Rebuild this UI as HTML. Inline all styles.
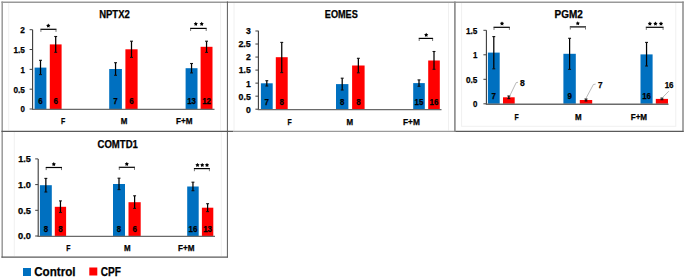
<!DOCTYPE html>
<html><head><meta charset="utf-8"><style>
html,body{margin:0;padding:0;background:#fff;}
body{width:685px;height:279px;overflow:hidden;}
svg{display:block;}
text{font-family:"Liberation Sans", sans-serif;stroke:#000;stroke-width:0.25px;}
</style></head><body>
<svg width="685" height="279" viewBox="0 0 685 279">
<rect width="685" height="279" fill="#fff"/>
<line x1="8.7" y1="3" x2="8.7" y2="130.5" stroke="#f0f0f0" stroke-width="1"/>
<line x1="220.6" y1="3" x2="220.6" y2="130.5" stroke="#f0f0f0" stroke-width="1"/>
<line x1="234.0" y1="3" x2="234.0" y2="130.5" stroke="#f0f0f0" stroke-width="1"/>
<line x1="448.5" y1="3" x2="448.5" y2="130.5" stroke="#f0f0f0" stroke-width="1"/>
<rect x="461.6" y="2.5" width="214.2" height="123.8" fill="none" stroke="#f0f0f0" stroke-width="1"/>
<line x1="14.3" y1="132" x2="14.3" y2="256" stroke="#f0f0f0" stroke-width="1"/>
<line x1="221.3" y1="132" x2="221.3" y2="256" stroke="#f0f0f0" stroke-width="1"/>
<line x1="1.4" y1="2.2" x2="683.7" y2="2.2" stroke="#999999" stroke-width="1.6"/>
<line x1="2.2" y1="1.4" x2="2.2" y2="257.5" stroke="#999999" stroke-width="1.5"/>
<line x1="683.0" y1="1.4" x2="683.0" y2="132.0" stroke="#8a8a8a" stroke-width="1.5"/>
<line x1="1.4" y1="131.4" x2="233.5" y2="131.4" stroke="#5a5a5a" stroke-width="1.15"/>
<line x1="233.5" y1="131.4" x2="455.0" y2="131.4" stroke="#9a9a9a" stroke-width="1.15"/>
<line x1="455.0" y1="131.4" x2="683.6" y2="131.4" stroke="#5a5a5a" stroke-width="1.15"/>
<line x1="227.4" y1="1.4" x2="227.4" y2="257.5" stroke="#5a5a5a" stroke-width="1.0"/>
<line x1="454.9" y1="1.4" x2="454.9" y2="132.0" stroke="#888888" stroke-width="1.6"/>
<line x1="1.4" y1="257.1" x2="227.9" y2="257.1" stroke="#5a5a5a" stroke-width="1.1"/>
<rect x="34.60" y="67.60" width="11.80" height="41.40" fill="#0070C0"/>
<rect x="49.80" y="44.40" width="11.80" height="64.60" fill="#FF0000"/>
<rect x="109.20" y="69.00" width="12.70" height="40.00" fill="#0070C0"/>
<rect x="125.40" y="49.30" width="12.20" height="59.70" fill="#FF0000"/>
<rect x="185.60" y="68.20" width="11.90" height="40.80" fill="#0070C0"/>
<rect x="200.60" y="46.80" width="11.90" height="62.20" fill="#FF0000"/>
<line x1="32.6" y1="29.7" x2="32.6" y2="109.3" stroke="#3a3a3a" stroke-width="1.1" />
<line x1="32.0" y1="109.45" x2="214.5" y2="109.45" stroke="#6a6a6a" stroke-width="1.3" />
<line x1="29.6" y1="109.0" x2="32.6" y2="109.0" stroke="#404040" stroke-width="1.0" />
<text x="24.8" y="112.4" font-size="8.8" text-anchor="end" font-weight="bold" fill="#000" textLength="4.4" lengthAdjust="spacingAndGlyphs">0</text>
<line x1="29.6" y1="89.175" x2="32.6" y2="89.175" stroke="#404040" stroke-width="1.0" />
<text x="24.8" y="92.575" font-size="8.8" text-anchor="end" font-weight="bold" fill="#000" textLength="11.4" lengthAdjust="spacingAndGlyphs">0.5</text>
<line x1="29.6" y1="69.35" x2="32.6" y2="69.35" stroke="#404040" stroke-width="1.0" />
<text x="24.8" y="72.75" font-size="8.8" text-anchor="end" font-weight="bold" fill="#000" textLength="4.4" lengthAdjust="spacingAndGlyphs">1</text>
<line x1="29.6" y1="49.525000000000006" x2="32.6" y2="49.525000000000006" stroke="#404040" stroke-width="1.0" />
<text x="24.8" y="52.925000000000004" font-size="8.8" text-anchor="end" font-weight="bold" fill="#000" textLength="11.4" lengthAdjust="spacingAndGlyphs">1.5</text>
<line x1="29.6" y1="29.700000000000003" x2="32.6" y2="29.700000000000003" stroke="#404040" stroke-width="1.0" />
<text x="24.8" y="33.1" font-size="8.8" text-anchor="end" font-weight="bold" fill="#000" textLength="4.6" lengthAdjust="spacingAndGlyphs">2</text>
<line x1="40.5" y1="60.3" x2="40.5" y2="74.6" stroke="#000" stroke-width="1.25" />
<line x1="39.05" y1="60.3" x2="41.95" y2="60.3" stroke="#111" stroke-width="1.1" />
<line x1="39.05" y1="74.6" x2="41.95" y2="74.6" stroke="#111" stroke-width="1.1" />
<text x="40.5" y="103.9" font-size="8.2" text-anchor="middle" font-weight="bold" fill="#000" textLength="4.4" lengthAdjust="spacingAndGlyphs">6</text>
<line x1="55.7" y1="36.5" x2="55.7" y2="52.3" stroke="#000" stroke-width="1.25" />
<line x1="54.25" y1="36.5" x2="57.150000000000006" y2="36.5" stroke="#111" stroke-width="1.1" />
<line x1="54.25" y1="52.3" x2="57.150000000000006" y2="52.3" stroke="#111" stroke-width="1.1" />
<text x="55.7" y="103.9" font-size="8.2" text-anchor="middle" font-weight="bold" fill="#000" textLength="4.4" lengthAdjust="spacingAndGlyphs">6</text>
<line x1="115.55000000000001" y1="62.7" x2="115.55000000000001" y2="75.3" stroke="#000" stroke-width="1.25" />
<line x1="114.10000000000001" y1="62.7" x2="117.00000000000001" y2="62.7" stroke="#111" stroke-width="1.1" />
<line x1="114.10000000000001" y1="75.3" x2="117.00000000000001" y2="75.3" stroke="#111" stroke-width="1.1" />
<text x="115.55000000000001" y="103.9" font-size="8.2" text-anchor="middle" font-weight="bold" fill="#000" textLength="4.4" lengthAdjust="spacingAndGlyphs">7</text>
<line x1="131.5" y1="41.2" x2="131.5" y2="57.4" stroke="#000" stroke-width="1.25" />
<line x1="130.05" y1="41.2" x2="132.95" y2="41.2" stroke="#111" stroke-width="1.1" />
<line x1="130.05" y1="57.4" x2="132.95" y2="57.4" stroke="#111" stroke-width="1.1" />
<text x="131.5" y="103.9" font-size="8.2" text-anchor="middle" font-weight="bold" fill="#000" textLength="4.4" lengthAdjust="spacingAndGlyphs">6</text>
<line x1="191.55" y1="63.5" x2="191.55" y2="72.9" stroke="#000" stroke-width="1.25" />
<line x1="190.10000000000002" y1="63.5" x2="193.0" y2="63.5" stroke="#111" stroke-width="1.1" />
<line x1="190.10000000000002" y1="72.9" x2="193.0" y2="72.9" stroke="#111" stroke-width="1.1" />
<text x="191.55" y="103.9" font-size="8.2" text-anchor="middle" font-weight="bold" fill="#000" textLength="8.8" lengthAdjust="spacingAndGlyphs">13</text>
<line x1="206.55" y1="41.2" x2="206.55" y2="52.4" stroke="#000" stroke-width="1.25" />
<line x1="205.10000000000002" y1="41.2" x2="208.0" y2="41.2" stroke="#111" stroke-width="1.1" />
<line x1="205.10000000000002" y1="52.4" x2="208.0" y2="52.4" stroke="#111" stroke-width="1.1" />
<text x="206.55" y="103.9" font-size="8.2" text-anchor="middle" font-weight="bold" fill="#000" textLength="8.8" lengthAdjust="spacingAndGlyphs">12</text>
<text x="63.2" y="124.0" font-size="8.4" text-anchor="middle" font-weight="bold" fill="#000" textLength="4.2" lengthAdjust="spacingAndGlyphs">F</text>
<text x="124.0" y="124.0" font-size="8.4" text-anchor="middle" font-weight="bold" fill="#000" textLength="6.6" lengthAdjust="spacingAndGlyphs">M</text>
<text x="184.2" y="124.0" font-size="8.4" text-anchor="middle" font-weight="bold" fill="#000" textLength="16.4" lengthAdjust="spacingAndGlyphs">F+M</text>
<line x1="40.4" y1="29.3" x2="56.5" y2="29.3" stroke="#000" stroke-width="1.2" />
<line x1="40.9" y1="29.7" x2="40.9" y2="31.900000000000002" stroke="#666" stroke-width="0.9" />
<line x1="56.0" y1="29.7" x2="56.0" y2="31.900000000000002" stroke="#666" stroke-width="0.9" />
<polygon points="48.30,23.60 49.01,24.82 50.39,25.12 49.45,26.17 49.59,27.58 48.30,27.01 47.01,27.58 47.15,26.17 46.21,25.12 47.59,24.82" fill="#000"/>
<line x1="190.1" y1="28.4" x2="206.7" y2="28.4" stroke="#000" stroke-width="1.2" />
<line x1="190.6" y1="28.799999999999997" x2="190.6" y2="31.0" stroke="#666" stroke-width="0.9" />
<line x1="206.2" y1="28.799999999999997" x2="206.2" y2="31.0" stroke="#666" stroke-width="0.9" />
<polygon points="195.80,21.80 196.51,23.02 197.89,23.32 196.95,24.37 197.09,25.78 195.80,25.21 194.51,25.78 194.65,24.37 193.71,23.32 195.09,23.02" fill="#000"/>
<polygon points="201.70,21.80 202.41,23.02 203.79,23.32 202.85,24.37 202.99,25.78 201.70,25.21 200.41,25.78 200.55,24.37 199.61,23.32 200.99,23.02" fill="#000"/>
<text x="114.5" y="17.5" font-size="10.2" text-anchor="middle" font-weight="bold" fill="#000" textLength="30.6" lengthAdjust="spacingAndGlyphs">NPTX2</text>
<rect x="260.90" y="83.30" width="11.80" height="25.90" fill="#0070C0"/>
<rect x="275.80" y="57.20" width="11.90" height="52.00" fill="#FF0000"/>
<rect x="336.00" y="84.10" width="12.40" height="25.10" fill="#0070C0"/>
<rect x="352.10" y="65.50" width="12.50" height="43.70" fill="#FF0000"/>
<rect x="413.20" y="83.10" width="11.60" height="26.10" fill="#0070C0"/>
<rect x="428.20" y="60.50" width="11.60" height="48.70" fill="#FF0000"/>
<line x1="258.4" y1="30.7" x2="258.4" y2="109.5" stroke="#3a3a3a" stroke-width="1.1" />
<line x1="257.79999999999995" y1="109.65" x2="441.5" y2="109.65" stroke="#6a6a6a" stroke-width="1.3" />
<line x1="255.39999999999998" y1="109.2" x2="258.4" y2="109.2" stroke="#404040" stroke-width="1.0" />
<text x="250.8" y="112.60000000000001" font-size="8.8" text-anchor="end" font-weight="bold" fill="#000" textLength="4.8" lengthAdjust="spacingAndGlyphs">0</text>
<line x1="255.39999999999998" y1="96.165" x2="258.4" y2="96.165" stroke="#404040" stroke-width="1.0" />
<text x="250.8" y="99.56500000000001" font-size="8.8" text-anchor="end" font-weight="bold" fill="#000" textLength="12.2" lengthAdjust="spacingAndGlyphs">0.5</text>
<line x1="255.39999999999998" y1="83.13" x2="258.4" y2="83.13" stroke="#404040" stroke-width="1.0" />
<text x="250.8" y="86.53" font-size="8.8" text-anchor="end" font-weight="bold" fill="#000" textLength="4.8" lengthAdjust="spacingAndGlyphs">1</text>
<line x1="255.39999999999998" y1="70.095" x2="258.4" y2="70.095" stroke="#404040" stroke-width="1.0" />
<text x="250.8" y="73.495" font-size="8.8" text-anchor="end" font-weight="bold" fill="#000" textLength="12.0" lengthAdjust="spacingAndGlyphs">1.5</text>
<line x1="255.39999999999998" y1="57.06" x2="258.4" y2="57.06" stroke="#404040" stroke-width="1.0" />
<text x="250.8" y="60.46" font-size="8.8" text-anchor="end" font-weight="bold" fill="#000" textLength="4.8" lengthAdjust="spacingAndGlyphs">2</text>
<line x1="255.39999999999998" y1="44.025000000000006" x2="258.4" y2="44.025000000000006" stroke="#404040" stroke-width="1.0" />
<text x="250.8" y="47.425000000000004" font-size="8.8" text-anchor="end" font-weight="bold" fill="#000" textLength="12.4" lengthAdjust="spacingAndGlyphs">2.5</text>
<line x1="255.39999999999998" y1="30.989999999999995" x2="258.4" y2="30.989999999999995" stroke="#404040" stroke-width="1.0" />
<text x="250.8" y="34.38999999999999" font-size="8.8" text-anchor="end" font-weight="bold" fill="#000" textLength="4.8" lengthAdjust="spacingAndGlyphs">3</text>
<line x1="266.79999999999995" y1="80.7" x2="266.79999999999995" y2="86.0" stroke="#000" stroke-width="1.25" />
<line x1="265.34999999999997" y1="80.7" x2="268.24999999999994" y2="80.7" stroke="#111" stroke-width="1.1" />
<line x1="265.34999999999997" y1="86.0" x2="268.24999999999994" y2="86.0" stroke="#111" stroke-width="1.1" />
<text x="266.79999999999995" y="104.5" font-size="8.2" text-anchor="middle" font-weight="bold" fill="#000" textLength="4.4" lengthAdjust="spacingAndGlyphs">7</text>
<line x1="281.75" y1="42.4" x2="281.75" y2="72.6" stroke="#000" stroke-width="1.25" />
<line x1="280.3" y1="42.4" x2="283.2" y2="42.4" stroke="#111" stroke-width="1.1" />
<line x1="280.3" y1="72.6" x2="283.2" y2="72.6" stroke="#111" stroke-width="1.1" />
<text x="281.75" y="104.5" font-size="8.2" text-anchor="middle" font-weight="bold" fill="#000" textLength="4.4" lengthAdjust="spacingAndGlyphs">8</text>
<line x1="342.2" y1="78.2" x2="342.2" y2="90.0" stroke="#000" stroke-width="1.25" />
<line x1="340.75" y1="78.2" x2="343.65" y2="78.2" stroke="#111" stroke-width="1.1" />
<line x1="340.75" y1="90.0" x2="343.65" y2="90.0" stroke="#111" stroke-width="1.1" />
<text x="342.2" y="104.5" font-size="8.2" text-anchor="middle" font-weight="bold" fill="#000" textLength="4.4" lengthAdjust="spacingAndGlyphs">8</text>
<line x1="358.35" y1="58.3" x2="358.35" y2="72.8" stroke="#000" stroke-width="1.25" />
<line x1="356.90000000000003" y1="58.3" x2="359.8" y2="58.3" stroke="#111" stroke-width="1.1" />
<line x1="356.90000000000003" y1="72.8" x2="359.8" y2="72.8" stroke="#111" stroke-width="1.1" />
<text x="358.35" y="104.5" font-size="8.2" text-anchor="middle" font-weight="bold" fill="#000" textLength="4.4" lengthAdjust="spacingAndGlyphs">8</text>
<line x1="419.0" y1="79.9" x2="419.0" y2="86.3" stroke="#000" stroke-width="1.25" />
<line x1="417.55" y1="79.9" x2="420.45" y2="79.9" stroke="#111" stroke-width="1.1" />
<line x1="417.55" y1="86.3" x2="420.45" y2="86.3" stroke="#111" stroke-width="1.1" />
<text x="419.0" y="104.5" font-size="8.2" text-anchor="middle" font-weight="bold" fill="#000" textLength="8.8" lengthAdjust="spacingAndGlyphs">15</text>
<line x1="434.0" y1="51.5" x2="434.0" y2="69.3" stroke="#000" stroke-width="1.25" />
<line x1="432.55" y1="51.5" x2="435.45" y2="51.5" stroke="#111" stroke-width="1.1" />
<line x1="432.55" y1="69.3" x2="435.45" y2="69.3" stroke="#111" stroke-width="1.1" />
<text x="434.0" y="104.5" font-size="8.2" text-anchor="middle" font-weight="bold" fill="#000" textLength="8.8" lengthAdjust="spacingAndGlyphs">16</text>
<text x="289.6" y="125.0" font-size="8.4" text-anchor="middle" font-weight="bold" fill="#000" textLength="4.2" lengthAdjust="spacingAndGlyphs">F</text>
<text x="349.8" y="125.0" font-size="8.4" text-anchor="middle" font-weight="bold" fill="#000" textLength="6.6" lengthAdjust="spacingAndGlyphs">M</text>
<text x="411.4" y="125.0" font-size="8.4" text-anchor="middle" font-weight="bold" fill="#000" textLength="16.8" lengthAdjust="spacingAndGlyphs">F+M</text>
<line x1="418.7" y1="38.4" x2="433.1" y2="38.4" stroke="#000" stroke-width="1.2" />
<line x1="419.2" y1="38.8" x2="419.2" y2="41.0" stroke="#666" stroke-width="0.9" />
<line x1="432.6" y1="38.8" x2="432.6" y2="41.0" stroke="#666" stroke-width="0.9" />
<polygon points="426.20,32.80 426.91,34.02 428.29,34.32 427.35,35.37 427.49,36.78 426.20,36.21 424.91,36.78 425.05,35.37 424.11,34.32 425.49,34.02" fill="#000"/>
<text x="341.3" y="17.5" font-size="10.2" text-anchor="middle" font-weight="bold" fill="#000" textLength="33.0" lengthAdjust="spacingAndGlyphs">EOMES</text>
<rect x="487.90" y="52.60" width="11.80" height="51.20" fill="#0070C0"/>
<rect x="503.00" y="97.30" width="11.70" height="6.50" fill="#FF0000"/>
<rect x="563.40" y="53.80" width="12.40" height="50.00" fill="#0070C0"/>
<rect x="579.80" y="100.00" width="12.40" height="3.80" fill="#FF0000"/>
<rect x="640.50" y="54.40" width="12.10" height="49.40" fill="#0070C0"/>
<rect x="655.80" y="98.90" width="12.20" height="4.90" fill="#FF0000"/>
<line x1="486.4" y1="30.3" x2="486.4" y2="104.1" stroke="#3a3a3a" stroke-width="1.1" />
<line x1="485.79999999999995" y1="104.25" x2="668.5" y2="104.25" stroke="#6a6a6a" stroke-width="1.3" />
<line x1="483.4" y1="103.8" x2="486.4" y2="103.8" stroke="#404040" stroke-width="1.0" />
<text x="477.4" y="107.2" font-size="8.8" text-anchor="end" font-weight="bold" fill="#000" textLength="4.4" lengthAdjust="spacingAndGlyphs">0</text>
<line x1="483.4" y1="79.3" x2="486.4" y2="79.3" stroke="#404040" stroke-width="1.0" />
<text x="477.4" y="82.7" font-size="8.8" text-anchor="end" font-weight="bold" fill="#000" textLength="11.4" lengthAdjust="spacingAndGlyphs">0.5</text>
<line x1="483.4" y1="54.8" x2="486.4" y2="54.8" stroke="#404040" stroke-width="1.0" />
<text x="477.4" y="58.199999999999996" font-size="8.8" text-anchor="end" font-weight="bold" fill="#000" textLength="4.4" lengthAdjust="spacingAndGlyphs">1</text>
<line x1="483.4" y1="30.299999999999997" x2="486.4" y2="30.299999999999997" stroke="#404040" stroke-width="1.0" />
<text x="477.4" y="33.699999999999996" font-size="8.8" text-anchor="end" font-weight="bold" fill="#000" textLength="11.4" lengthAdjust="spacingAndGlyphs">1.5</text>
<line x1="493.79999999999995" y1="36.6" x2="493.79999999999995" y2="68.8" stroke="#000" stroke-width="1.25" />
<line x1="492.34999999999997" y1="36.6" x2="495.24999999999994" y2="36.6" stroke="#111" stroke-width="1.1" />
<line x1="492.34999999999997" y1="68.8" x2="495.24999999999994" y2="68.8" stroke="#111" stroke-width="1.1" />
<text x="493.79999999999995" y="99.0" font-size="8.2" text-anchor="middle" font-weight="bold" fill="#000" textLength="4.4" lengthAdjust="spacingAndGlyphs">7</text>
<line x1="508.85" y1="96.0" x2="508.85" y2="98.6" stroke="#000" stroke-width="1.25" />
<line x1="507.40000000000003" y1="96.0" x2="510.3" y2="96.0" stroke="#111" stroke-width="1.1" />
<line x1="507.40000000000003" y1="98.6" x2="510.3" y2="98.6" stroke="#111" stroke-width="1.1" />
<line x1="569.5999999999999" y1="38.3" x2="569.5999999999999" y2="69.4" stroke="#000" stroke-width="1.25" />
<line x1="568.1499999999999" y1="38.3" x2="571.05" y2="38.3" stroke="#111" stroke-width="1.1" />
<line x1="568.1499999999999" y1="69.4" x2="571.05" y2="69.4" stroke="#111" stroke-width="1.1" />
<text x="569.5999999999999" y="99.0" font-size="8.2" text-anchor="middle" font-weight="bold" fill="#000" textLength="4.4" lengthAdjust="spacingAndGlyphs">9</text>
<line x1="586.0" y1="99.0" x2="586.0" y2="101.0" stroke="#000" stroke-width="1.25" />
<line x1="584.55" y1="99.0" x2="587.45" y2="99.0" stroke="#111" stroke-width="1.1" />
<line x1="584.55" y1="101.0" x2="587.45" y2="101.0" stroke="#111" stroke-width="1.1" />
<line x1="646.55" y1="42.4" x2="646.55" y2="66.0" stroke="#000" stroke-width="1.25" />
<line x1="645.0999999999999" y1="42.4" x2="648.0" y2="42.4" stroke="#111" stroke-width="1.1" />
<line x1="645.0999999999999" y1="66.0" x2="648.0" y2="66.0" stroke="#111" stroke-width="1.1" />
<text x="646.55" y="99.0" font-size="8.2" text-anchor="middle" font-weight="bold" fill="#000" textLength="8.8" lengthAdjust="spacingAndGlyphs">16</text>
<line x1="661.9" y1="98.1" x2="661.9" y2="99.7" stroke="#000" stroke-width="1.25" />
<line x1="660.4499999999999" y1="98.1" x2="663.35" y2="98.1" stroke="#111" stroke-width="1.1" />
<line x1="660.4499999999999" y1="99.7" x2="663.35" y2="99.7" stroke="#111" stroke-width="1.1" />
<text x="516.7" y="119.7" font-size="8.4" text-anchor="middle" font-weight="bold" fill="#000" textLength="4.2" lengthAdjust="spacingAndGlyphs">F</text>
<text x="578.2" y="119.7" font-size="8.4" text-anchor="middle" font-weight="bold" fill="#000" textLength="6.6" lengthAdjust="spacingAndGlyphs">M</text>
<text x="638.9" y="119.7" font-size="8.4" text-anchor="middle" font-weight="bold" fill="#000" textLength="16.4" lengthAdjust="spacingAndGlyphs">F+M</text>
<line x1="493.5" y1="27.3" x2="509.9" y2="27.3" stroke="#000" stroke-width="1.2" />
<line x1="494.0" y1="27.7" x2="494.0" y2="29.900000000000002" stroke="#666" stroke-width="0.9" />
<line x1="509.4" y1="27.7" x2="509.4" y2="29.900000000000002" stroke="#666" stroke-width="0.9" />
<polygon points="502.00,21.40 502.71,22.62 504.09,22.92 503.15,23.97 503.29,25.38 502.00,24.81 500.71,25.38 500.85,23.97 499.91,22.92 501.29,22.62" fill="#000"/>
<line x1="569.8" y1="26.9" x2="586.0" y2="26.9" stroke="#000" stroke-width="1.2" />
<line x1="570.3" y1="27.299999999999997" x2="570.3" y2="29.5" stroke="#666" stroke-width="0.9" />
<line x1="585.5" y1="27.299999999999997" x2="585.5" y2="29.5" stroke="#666" stroke-width="0.9" />
<polygon points="577.80,21.20 578.51,22.42 579.89,22.72 578.95,23.77 579.09,25.18 577.80,24.61 576.51,25.18 576.65,23.77 575.71,22.72 577.09,22.42" fill="#000"/>
<line x1="645.8" y1="27.3" x2="663.6" y2="27.3" stroke="#000" stroke-width="1.2" />
<line x1="646.3" y1="27.7" x2="646.3" y2="29.900000000000002" stroke="#666" stroke-width="0.9" />
<line x1="663.1" y1="27.7" x2="663.1" y2="29.900000000000002" stroke="#666" stroke-width="0.9" />
<polygon points="649.90,21.60 650.61,22.82 651.99,23.12 651.05,24.17 651.19,25.58 649.90,25.01 648.61,25.58 648.75,24.17 647.81,23.12 649.19,22.82" fill="#000"/>
<polygon points="655.45,21.60 656.16,22.82 657.54,23.12 656.60,24.17 656.74,25.58 655.45,25.01 654.16,25.58 654.30,24.17 653.36,23.12 654.74,22.82" fill="#000"/>
<polygon points="661.00,21.60 661.71,22.82 663.09,23.12 662.15,24.17 662.29,25.58 661.00,25.01 659.71,25.58 659.85,24.17 658.91,23.12 660.29,22.82" fill="#000"/>
<text x="568.7" y="17.8" font-size="10.2" text-anchor="middle" font-weight="bold" fill="#000" textLength="28.2" lengthAdjust="spacingAndGlyphs">PGM2</text>
<rect x="39.90" y="185.20" width="11.90" height="50.80" fill="#0070C0"/>
<rect x="54.80" y="206.80" width="11.30" height="29.20" fill="#FF0000"/>
<rect x="113.00" y="184.00" width="12.00" height="52.00" fill="#0070C0"/>
<rect x="128.50" y="202.20" width="12.20" height="33.80" fill="#FF0000"/>
<rect x="187.20" y="186.50" width="11.50" height="49.50" fill="#0070C0"/>
<rect x="201.90" y="207.70" width="11.40" height="28.30" fill="#FF0000"/>
<line x1="38.2" y1="159.0" x2="38.2" y2="236.3" stroke="#3a3a3a" stroke-width="1.1" />
<line x1="37.6" y1="236.45" x2="215.0" y2="236.45" stroke="#6a6a6a" stroke-width="1.3" />
<line x1="35.2" y1="236.0" x2="38.2" y2="236.0" stroke="#404040" stroke-width="1.0" />
<text x="30.9" y="239.4" font-size="8.8" text-anchor="end" font-weight="bold" fill="#000" textLength="12.9" lengthAdjust="spacingAndGlyphs">0.0</text>
<line x1="35.2" y1="210.3" x2="38.2" y2="210.3" stroke="#404040" stroke-width="1.0" />
<text x="30.9" y="213.70000000000002" font-size="8.8" text-anchor="end" font-weight="bold" fill="#000" textLength="12.9" lengthAdjust="spacingAndGlyphs">0.5</text>
<line x1="35.2" y1="184.6" x2="38.2" y2="184.6" stroke="#404040" stroke-width="1.0" />
<text x="30.9" y="188.0" font-size="8.8" text-anchor="end" font-weight="bold" fill="#000" textLength="12.9" lengthAdjust="spacingAndGlyphs">1.0</text>
<line x1="35.2" y1="158.9" x2="38.2" y2="158.9" stroke="#404040" stroke-width="1.0" />
<text x="30.9" y="162.3" font-size="8.8" text-anchor="end" font-weight="bold" fill="#000" textLength="12.6" lengthAdjust="spacingAndGlyphs">1.5</text>
<line x1="45.849999999999994" y1="178.4" x2="45.849999999999994" y2="192.0" stroke="#000" stroke-width="1.25" />
<line x1="44.39999999999999" y1="178.4" x2="47.3" y2="178.4" stroke="#111" stroke-width="1.1" />
<line x1="44.39999999999999" y1="192.0" x2="47.3" y2="192.0" stroke="#111" stroke-width="1.1" />
<text x="45.849999999999994" y="231.9" font-size="8.2" text-anchor="middle" font-weight="bold" fill="#000" textLength="4.4" lengthAdjust="spacingAndGlyphs">8</text>
<line x1="60.449999999999996" y1="200.9" x2="60.449999999999996" y2="212.5" stroke="#000" stroke-width="1.25" />
<line x1="58.99999999999999" y1="200.9" x2="61.9" y2="200.9" stroke="#111" stroke-width="1.1" />
<line x1="58.99999999999999" y1="212.5" x2="61.9" y2="212.5" stroke="#111" stroke-width="1.1" />
<text x="60.449999999999996" y="231.9" font-size="8.2" text-anchor="middle" font-weight="bold" fill="#000" textLength="4.4" lengthAdjust="spacingAndGlyphs">8</text>
<line x1="119.0" y1="178.2" x2="119.0" y2="189.6" stroke="#000" stroke-width="1.25" />
<line x1="117.55" y1="178.2" x2="120.45" y2="178.2" stroke="#111" stroke-width="1.1" />
<line x1="117.55" y1="189.6" x2="120.45" y2="189.6" stroke="#111" stroke-width="1.1" />
<text x="119.0" y="231.9" font-size="8.2" text-anchor="middle" font-weight="bold" fill="#000" textLength="4.4" lengthAdjust="spacingAndGlyphs">8</text>
<line x1="134.6" y1="195.8" x2="134.6" y2="208.4" stroke="#000" stroke-width="1.25" />
<line x1="133.15" y1="195.8" x2="136.04999999999998" y2="195.8" stroke="#111" stroke-width="1.1" />
<line x1="133.15" y1="208.4" x2="136.04999999999998" y2="208.4" stroke="#111" stroke-width="1.1" />
<text x="134.6" y="231.9" font-size="8.2" text-anchor="middle" font-weight="bold" fill="#000" textLength="4.4" lengthAdjust="spacingAndGlyphs">6</text>
<line x1="192.95" y1="182.2" x2="192.95" y2="190.7" stroke="#000" stroke-width="1.25" />
<line x1="191.5" y1="182.2" x2="194.39999999999998" y2="182.2" stroke="#111" stroke-width="1.1" />
<line x1="191.5" y1="190.7" x2="194.39999999999998" y2="190.7" stroke="#111" stroke-width="1.1" />
<text x="192.95" y="231.9" font-size="8.2" text-anchor="middle" font-weight="bold" fill="#000" textLength="8.8" lengthAdjust="spacingAndGlyphs">16</text>
<line x1="207.60000000000002" y1="203.7" x2="207.60000000000002" y2="211.6" stroke="#000" stroke-width="1.25" />
<line x1="206.15000000000003" y1="203.7" x2="209.05" y2="203.7" stroke="#111" stroke-width="1.1" />
<line x1="206.15000000000003" y1="211.6" x2="209.05" y2="211.6" stroke="#111" stroke-width="1.1" />
<text x="207.60000000000002" y="231.9" font-size="8.2" text-anchor="middle" font-weight="bold" fill="#000" textLength="8.8" lengthAdjust="spacingAndGlyphs">13</text>
<text x="68.3" y="251.4" font-size="8.4" text-anchor="middle" font-weight="bold" fill="#000" textLength="4.2" lengthAdjust="spacingAndGlyphs">F</text>
<text x="127.2" y="251.4" font-size="8.4" text-anchor="middle" font-weight="bold" fill="#000" textLength="6.6" lengthAdjust="spacingAndGlyphs">M</text>
<text x="186.2" y="251.4" font-size="8.4" text-anchor="middle" font-weight="bold" fill="#000" textLength="16.4" lengthAdjust="spacingAndGlyphs">F+M</text>
<line x1="45.7" y1="167.5" x2="62.0" y2="167.5" stroke="#000" stroke-width="1.2" />
<line x1="46.2" y1="167.9" x2="46.2" y2="170.1" stroke="#666" stroke-width="0.9" />
<line x1="61.5" y1="167.9" x2="61.5" y2="170.1" stroke="#666" stroke-width="0.9" />
<polygon points="53.80,162.10 54.51,163.32 55.89,163.62 54.95,164.67 55.09,166.08 53.80,165.51 52.51,166.08 52.65,164.67 51.71,163.62 53.09,163.32" fill="#000"/>
<line x1="118.8" y1="167.3" x2="135.0" y2="167.3" stroke="#000" stroke-width="1.2" />
<line x1="119.3" y1="167.70000000000002" x2="119.3" y2="169.9" stroke="#666" stroke-width="0.9" />
<line x1="134.5" y1="167.70000000000002" x2="134.5" y2="169.9" stroke="#666" stroke-width="0.9" />
<polygon points="126.80,161.90 127.51,163.12 128.89,163.42 127.95,164.47 128.09,165.88 126.80,165.31 125.51,165.88 125.65,164.47 124.71,163.42 126.09,163.12" fill="#000"/>
<line x1="193.9" y1="168.6" x2="209.9" y2="168.6" stroke="#000" stroke-width="1.2" />
<line x1="194.4" y1="169.0" x2="194.4" y2="171.2" stroke="#666" stroke-width="0.9" />
<line x1="209.4" y1="169.0" x2="209.4" y2="171.2" stroke="#666" stroke-width="0.9" />
<polygon points="197.50,162.90 198.21,164.12 199.59,164.42 198.65,165.47 198.79,166.88 197.50,166.31 196.21,166.88 196.35,165.47 195.41,164.42 196.79,164.12" fill="#000"/>
<polygon points="202.25,162.90 202.96,164.12 204.34,164.42 203.40,165.47 203.54,166.88 202.25,166.31 200.96,166.88 201.10,165.47 200.16,164.42 201.54,164.12" fill="#000"/>
<polygon points="207.00,162.90 207.71,164.12 209.09,164.42 208.15,165.47 208.29,166.88 207.00,166.31 205.71,166.88 205.85,165.47 204.91,164.42 206.29,164.12" fill="#000"/>
<text x="117.7" y="147.9" font-size="10.2" text-anchor="middle" font-weight="bold" fill="#000" textLength="40.3" lengthAdjust="spacingAndGlyphs">COMTD1</text>
<polyline points="518.0,82.3 516.2,82.6 509.6,96.2" fill="none" stroke="#9a9a9a" stroke-width="0.7"/>
<text x="522.5" y="86.0" font-size="8.8" text-anchor="middle" font-weight="bold" fill="#000" textLength="4.8" lengthAdjust="spacingAndGlyphs">8</text>
<polyline points="595.6,84.1 593.4,84.5 585.8,98.6" fill="none" stroke="#9a9a9a" stroke-width="0.7"/>
<text x="600.4" y="87.8" font-size="8.8" text-anchor="middle" font-weight="bold" fill="#000" textLength="4.6" lengthAdjust="spacingAndGlyphs">7</text>
<polyline points="668.8,91.2 661.5,98.6" fill="none" stroke="#9a9a9a" stroke-width="0.7"/>
<text x="669.1" y="88.0" font-size="8.8" text-anchor="middle" font-weight="bold" fill="#000" textLength="8.9" lengthAdjust="spacingAndGlyphs">16</text>

<rect x="23" y="268" width="8" height="8" fill="#0070C0"/>
<text x="34.2" y="276.3" font-size="13.2" font-weight="bold" fill="#000" textLength="41.4" lengthAdjust="spacingAndGlyphs">Control</text>
<rect x="89.3" y="267.5" width="8" height="8" fill="#FF0000"/>
<text x="100.8" y="276.2" font-size="13.2" font-weight="bold" fill="#000" textLength="20.2" lengthAdjust="spacingAndGlyphs">CPF</text>

</svg>
</body></html>
